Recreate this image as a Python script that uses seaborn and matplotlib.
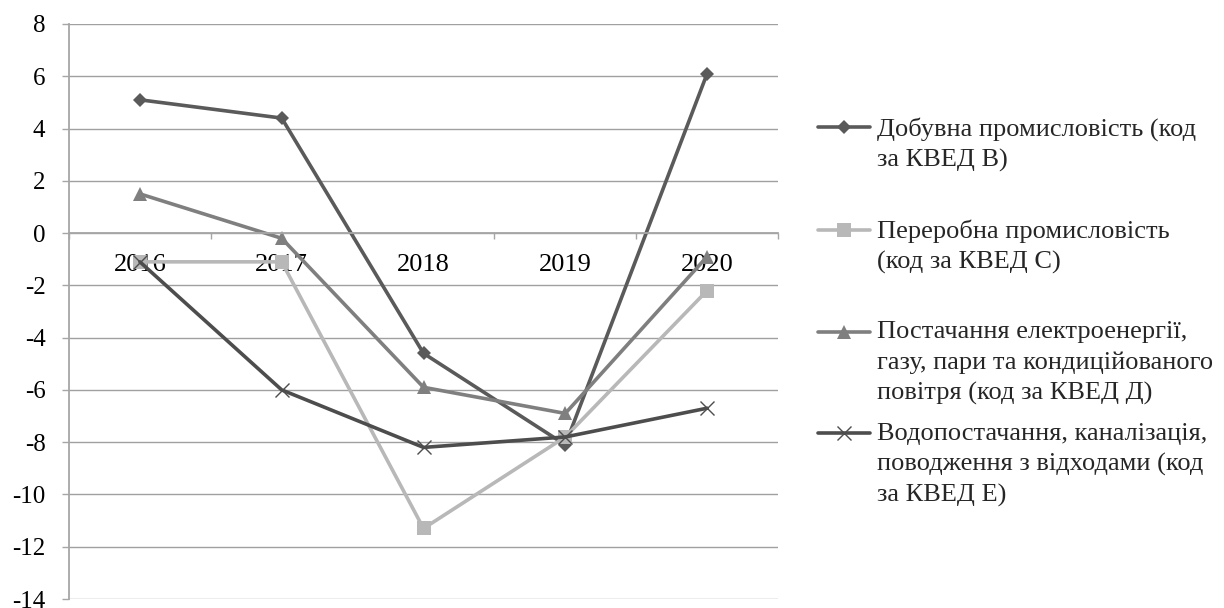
import matplotlib
matplotlib.use("Agg")
import matplotlib.pyplot as plt
from matplotlib.ticker import MultipleLocator, FixedLocator
import seaborn as sns

# Year-on-year change by industry section, %
years = ["2016", "2017", "2018", "2019", "2020"]
mining = [5.1, 4.4, -4.6, -8.1, 6.1]
manufacturing = [-1.1, -1.1, -11.3, -7.8, -2.2]
energy = [1.5, -0.2, -5.9, -6.9, -0.9]
water = [-1.1, -6.0, -8.2, -7.8, -6.7]

series_labels = [
    "Добувна промисловість (код\nза КВЕД В)",
    "Переробна промисловість\n(код за КВЕД С)",
    "Постачання електроенергії,\nгазу, пари та кондиційованого\nповітря (код за КВЕД Д)",
    "Водопостачання, каналізація,\nповодження з відходами (код\nза КВЕД Е)",
]
y_ticks = list(range(-14, 9, 2))

sns.set_style("white")
plt.rcParams["font.family"] = ["Liberation Serif", "DejaVu Serif"]
plt.rcParams["axes.unicode_minus"] = False

fig = plt.figure(figsize=(12.24, 6.08), dpi=100)
ax = fig.add_axes([69 / 1224, 1 - 599 / 608, 709 / 1224, 575 / 608])

styles = [
    dict(color="#5a5a5a", marker="D", markersize=6.8, markeredgewidth=0),
    dict(color="#b8b8b8", marker="s", markersize=10, markeredgewidth=0),
    dict(color="#7f7f7f", marker="^", markersize=10.5, markeredgewidth=0),
    dict(color="#4d4d4d", marker="x", markersize=10, markeredgewidth=1.0),
]
for vals, lab, st in zip([mining, manufacturing, energy, water], series_labels, styles):
    sns.lineplot(x=years, y=vals, ax=ax, sort=False, linewidth=2.6,
                 markeredgecolor=st["color"], label=lab, **st)

if ax.get_legend() is not None:
    ax.get_legend().remove()

grid_c = "#a0a0a0"
ax.set_xlim(-0.5, 4.5)
ax.set_ylim(-14, 8)
ax.yaxis.set_major_locator(FixedLocator(y_ticks))
ax.xaxis.set_minor_locator(MultipleLocator(1, offset=0.5))
ax.grid(axis="y", color=grid_c, linewidth=1.0)
ax.grid(axis="x", visible=False)
ax.set_xlabel("")
ax.set_ylabel("")

for side in ("top", "right"):
    ax.spines[side].set_visible(False)
ax.spines["bottom"].set_position(("data", 0))
for side in ("left", "bottom"):
    ax.spines[side].set_color("#a6a6a6")
    ax.spines[side].set_linewidth(1.3)

ax.tick_params(axis="y", which="major", left=True, length=5, width=1.0,
               color="#a6a6a6", pad=12, labelsize=18, labelcolor="black")
ax.tick_params(axis="x", which="major", bottom=True, length=0, pad=15,
               labelsize=19, labelcolor="black")
ax.tick_params(axis="x", which="minor", bottom=True, direction="out",
               length=4.5, width=1.0, color="#a6a6a6")

handles, _ = ax.get_legend_handles_labels()
padded = [l if l.count("\n") == 2 else l + "\n" for l in series_labels]
leg = fig.legend(handles, padded, loc="upper left",
                 bbox_to_anchor=(818 / 1224, 1 - 117 / 608),
                 frameon=False, fontsize=19, borderpad=0, borderaxespad=0,
                 handlelength=1.97, handletextpad=0.26, handleheight=1.0,
                 labelspacing=0.66)
for t in leg.get_texts():
    t.set_linespacing(1.46)
# keep each legend key level with the first line of its label
for col in leg._legend_handle_box.get_children():
    for item in col.get_children():
        item.align = "top"

fig.savefig("out.png", dpi=100)
